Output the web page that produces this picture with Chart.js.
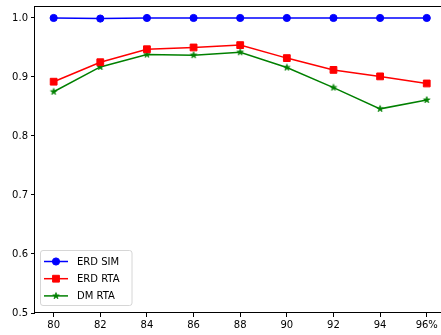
<!DOCTYPE html>
<html>
<head>
<meta charset="utf-8">
<script src="https://cdn.jsdelivr.net/npm/chart.js@4/dist/chart.umd.min.js"></script>
<style>
  html, body { margin: 0; padding: 0; background: #fff; overflow: hidden; }
  #wrap { width: 441px; height: 335px; overflow: hidden; position: relative; }
  canvas { position: absolute; left: 0; top: 0; }
</style>
</head>
<body>
<div id="wrap"><canvas id="c" width="460" height="335"></canvas></div>
<script>
// Accuracy levels on the x axis and the scores of each method
const accuracyLevels = [80, 82, 84, 86, 88, 90, 92, 94, 96];
const xTickLabels = ['80', '82', '84', '86', '88', '90', '92', '94', '96%'];
const yTicks = [0.5, 0.6, 0.7, 0.8, 0.9, 1.0];

const erdSim = [1.0, 0.999, 1.0, 1.0, 1.0, 1.0, 1.0, 1.0, 1.0];
const erdRta = [0.892, 0.925, 0.947, 0.950, 0.954, 0.932, 0.912, 0.901, 0.889];
const dmRta  = [0.875, 0.917, 0.938, 0.937, 0.942, 0.916, 0.882, 0.846, 0.861];

const seriesNames = ['ERD SIM', 'ERD RTA', 'DM RTA'];

// filled five-pointed star marker
function makeStar(color, rOuter) {
  const size = Math.ceil(rOuter * 2 + 3);
  const cv = document.createElement('canvas');
  cv.width = size; cv.height = size;
  const g = cv.getContext('2d');
  const c = size / 2, rInner = rOuter * 0.382;
  g.beginPath();
  for (let i = 0; i < 10; i++) {
    const r = i % 2 === 0 ? rOuter : rInner;
    const a = -Math.PI / 2 + i * Math.PI / 5;
    const px = c + r * Math.cos(a), py = c + r * Math.sin(a);
    if (i === 0) g.moveTo(px, py); else g.lineTo(px, py);
  }
  g.closePath();
  g.fillStyle = color; g.strokeStyle = color; g.lineWidth = 0.8;
  g.fill(); g.stroke();
  return cv;
}

const BLUE = '#0000ff', RED = '#ff0000', GREEN = '#008000';
const starMarker = makeStar(GREEN, 3.4);

const toPoints = vals => vals.map((v, i) => ({ x: accuracyLevels[i], y: v }));

const datasets = [
  { label: seriesNames[0], data: toPoints(erdSim), borderColor: BLUE, backgroundColor: BLUE,
    pointStyle: 'circle', pointRadius: 3.6 },
  { label: seriesNames[1], data: toPoints(erdRta), borderColor: RED, backgroundColor: RED,
    pointStyle: 'rect', pointRadius: 4.8 },
  { label: seriesNames[2], data: toPoints(dmRta), borderColor: GREEN, backgroundColor: GREEN,
    pointStyle: starMarker, pointRadius: 4 }
].map(d => Object.assign(d, {
  borderWidth: 1.5, pointBorderWidth: 1, pointBorderColor: d.borderColor,
  pointBackgroundColor: d.backgroundColor, tension: 0, fill: false
}));

// axes frame and boxed legend in the lower-left corner
const framePlugin = {
  id: 'frameAndLegend',
  afterDraw(chart) {
    const { ctx, chartArea: a } = chart;
    ctx.save();
    ctx.strokeStyle = '#000';
    ctx.lineWidth = 1;
    const L = Math.round(a.left) - 0.5, T = Math.round(a.top) + 0.5;
    const R = Math.round(a.right) + 0.5, B = Math.round(a.bottom) - 0.5;
    ctx.strokeRect(L, T, R - L, B - T);

    // legend box
    const bx = 40.5, by = 250.5, bw = 91.5, bh = 55, rad = 2.5;
    ctx.beginPath();
    ctx.moveTo(bx + rad, by);
    ctx.arcTo(bx + bw, by, bx + bw, by + bh, rad);
    ctx.arcTo(bx + bw, by + bh, bx, by + bh, rad);
    ctx.arcTo(bx, by + bh, bx, by, rad);
    ctx.arcTo(bx, by, bx + bw, by, rad);
    ctx.closePath();
    ctx.fillStyle = 'rgba(255,255,255,0.8)';
    ctx.fill();
    ctx.strokeStyle = '#cccccc';
    ctx.lineWidth = 0.8;
    ctx.stroke();

    ctx.font = '10px "DejaVu Sans"';
    ctx.textBaseline = 'middle';
    ctx.textAlign = 'left';
    chart.data.datasets.forEach((ds, i) => {
      const y = 261.5 + i * 17.2;
      ctx.strokeStyle = ds.borderColor;
      ctx.lineWidth = ds.borderWidth;
      ctx.beginPath();
      ctx.moveTo(44, y); ctx.lineTo(68, y);
      ctx.stroke();
      const mx = 56, ps = ds.pointStyle, r = ds.pointRadius;
      ctx.fillStyle = ds.backgroundColor;
      ctx.lineWidth = 1;
      if (ps === 'circle') {
        ctx.beginPath(); ctx.arc(mx, y, r, 0, Math.PI * 2); ctx.fill(); ctx.stroke();
      } else if (ps === 'rect') {
        const h = r * Math.SQRT1_2;
        ctx.beginPath(); ctx.rect(mx - h, y - h, 2 * h, 2 * h); ctx.fill(); ctx.stroke();
      } else {
        ctx.drawImage(ps, mx - ps.width / 2, y - ps.height / 2);
      }
      ctx.fillStyle = '#000';
      ctx.fillText(ds.label, 77, y + 0.5);
    });
    ctx.restore();
  }
};

Chart.defaults.font.family = '"DejaVu Sans"';
Chart.defaults.font.size = 10;
Chart.defaults.color = '#000';

new Chart(document.getElementById('c'), {
  type: 'line',
  data: { datasets },
  options: {
    responsive: false,
    animation: false,
    devicePixelRatio: 1,
    layout: { padding: { top: 6, right: 14.6, left: 0, bottom: 0 } },
    plugins: { legend: { display: false }, tooltip: { enabled: false } },
    scales: {
      x: {
        type: 'linear', min: 79.2, max: 96.8,
        afterBuildTicks: s => { s.ticks = accuracyLevels.map(v => ({ value: v })); },
        afterFit: s => { s.height = 22; s.paddingLeft = 0; s.paddingRight = 0; },
        ticks: {
          callback: (v) => xTickLabels[accuracyLevels.indexOf(v)],
          maxRotation: 0, autoSkip: false, padding: 2, color: '#000'
        },
        grid: { drawOnChartArea: false, drawTicks: true, tickLength: 4, color: '#000', lineWidth: 1 },
        border: { display: false }
      },
      y: {
        type: 'linear', min: 0.5, max: 1.0203,
        afterBuildTicks: s => { s.ticks = yTicks.map(v => ({ value: v })); },
        afterFit: s => { s.width = 35; s.paddingTop = 0; s.paddingBottom = 0; },
        ticks: { callback: v => v.toFixed(1), padding: 3, color: '#000' },
        grid: { drawOnChartArea: false, drawTicks: true, tickLength: 4, color: '#000', lineWidth: 1 },
        border: { display: false }
      }
    }
  },
  plugins: [framePlugin]
});
</script>
</body>
</html>
